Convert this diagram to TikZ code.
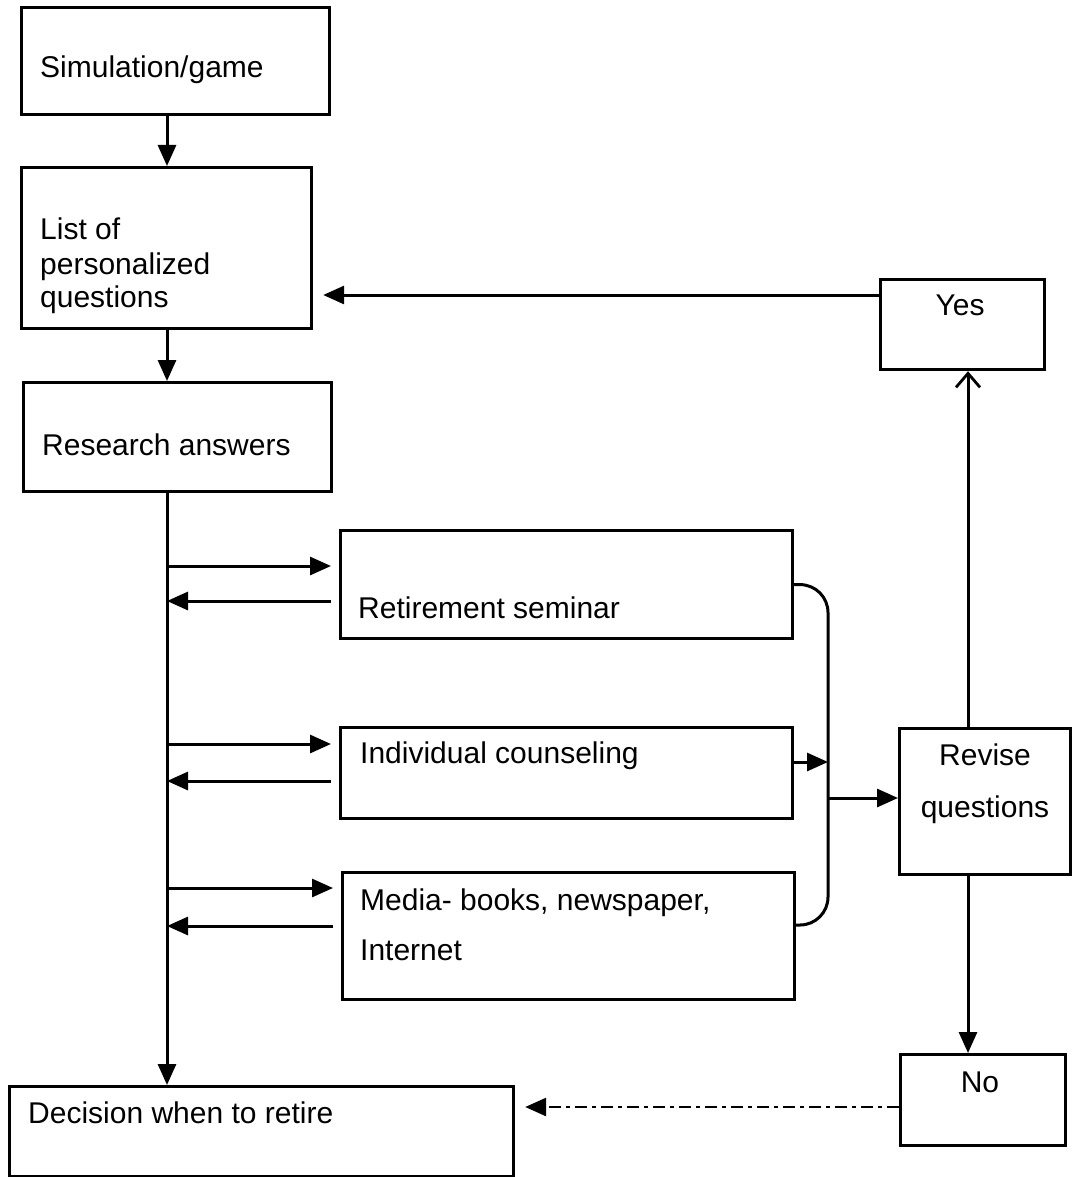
\documentclass[tikz,border=0pt]{standalone}
\usepackage{fontspec}
\setmainfont{Liberation Sans}
\usetikzlibrary{arrows.meta}
\begin{document}
\begin{tikzpicture}[x=1pt,y=-1pt,
  box/.style={draw,line width=3.2pt,anchor=north west,inner sep=0pt},
  txt/.style={anchor=base west,inner sep=0pt,font=\fontsize{30}{36}\selectfont},
  ctxt/.style={anchor=base,inner sep=0pt,font=\fontsize{30}{36}\selectfont},
  ln/.style={line width=3pt},
  arr/.style={ln,-{Triangle[length=21pt,width=18pt]}},
  openarr/.style={ln,-{Straight Barb[length=14pt,width=24pt,line width=2.8pt]}},
  dasharr/.style={line width=2.8pt,dash pattern=on 12pt off 5pt on 4pt off 5pt,-{Triangle[length=21pt,width=18pt]}}]
\useasboundingbox (0,0) rectangle (1071,1177);
% boxes
\node[box,minimum width=308pt,minimum height=107pt] (sim) at (20,6) {};
\node[box,minimum width=290pt,minimum height=161pt] (list) at (20,166) {};
\node[box,minimum width=308pt,minimum height=109pt] (research) at (22,381) {};
\node[box,minimum width=164pt,minimum height=90pt] (yes) at (879,278) {};
\node[box,minimum width=452pt,minimum height=108pt] (seminar) at (339,529) {};
\node[box,minimum width=452pt,minimum height=91pt] (counsel) at (339,726) {};
\node[box,minimum width=452pt,minimum height=127pt] (media) at (341,871) {};
\node[box,minimum width=171pt,minimum height=146pt] (revise) at (898,727) {};
\node[box,minimum width=165pt,minimum height=91pt] (no) at (899,1053) {};
\node[box,minimum width=504pt,minimum height=90pt] (decision) at (8,1085) {};
% texts
\node[txt] (tsim) at (40,78) {Simulation/game};
\node[txt] (tlist1) at (40,239) {List of};
\node[txt] (tlist2) at (40,274) {personalized};
\node[txt] (tlist3) at (40,307) {questions};
\node[txt] (tres) at (42,455) {Research answers};
\node[ctxt] (tyes) at (960,315) {Yes};
\node[txt] (tsem) at (358,618) {Retirement seminar};
\node[txt] (tcou) at (360,763) {Individual counseling};
\node[txt] (tmed1) at (360,910) {Media- books, newspaper,};
\node[txt] (tmed2) at (360,960) {Internet};
\node[ctxt] (trev1) at (985,765) {Revise};
\node[ctxt] (trev2) at (985,817) {questions};
\node[ctxt] (tno) at (980,1092) {No};
\node[txt] (tdec) at (28,1123) {Decision when to retire};
% coordinates
\coordinate (spine) at (167,0);
\coordinate (s1) at (167,566);
\coordinate (s2) at (167,601);
\coordinate (c1) at (167,744);
\coordinate (c2) at (167,781);
\coordinate (m1) at (167,888);
\coordinate (m2) at (167,926);
\coordinate (yy) at (879,295);
\coordinate (rx) at (968,0);
\coordinate (cb) at (791,762);
\coordinate (bx) at (828,798);
\coordinate (mb) at (793,925);
\coordinate (nd) at (899,1107);
% connectors
\draw[arr] (sim.south -| spine) -- (list.north -| spine);
\draw[arr] (list.south -| spine) -- (research.north -| spine);
\draw[arr] (research.south -| spine) -- (decision.north -| spine);
\draw[arr,shorten >=8pt] (s1) -- (s1 -| seminar.west);
\draw[arr,shorten <=8pt] (s2 -| seminar.west) -- (s2);
\draw[arr,shorten >=8pt] (c1) -- (c1 -| counsel.west);
\draw[arr,shorten <=8pt] (c2 -| counsel.west) -- (c2);
\draw[arr,shorten >=8pt] (m1) -- (m1 -| media.west);
\draw[arr,shorten <=8pt] (m2 -| media.west) -- (m2);
\draw[ln,rounded corners=28pt] (seminar.east) -- (bx |- seminar.east) -- (bx |- mb) -- (mb);
\draw[arr] (cb) -- (bx |- cb);
\draw[arr] (bx) -- (bx -| revise.west);
\draw[openarr] (revise.north -| rx) -- (yes.south -| rx);
\draw[arr] (revise.south -| rx) -- (no.north -| rx);
\draw[arr,shorten >=10pt] (yy) -- (yy -| list.east);
\draw[dasharr,shorten >=10pt] (nd) -- (nd -| decision.east);
\end{tikzpicture}
\end{document}
